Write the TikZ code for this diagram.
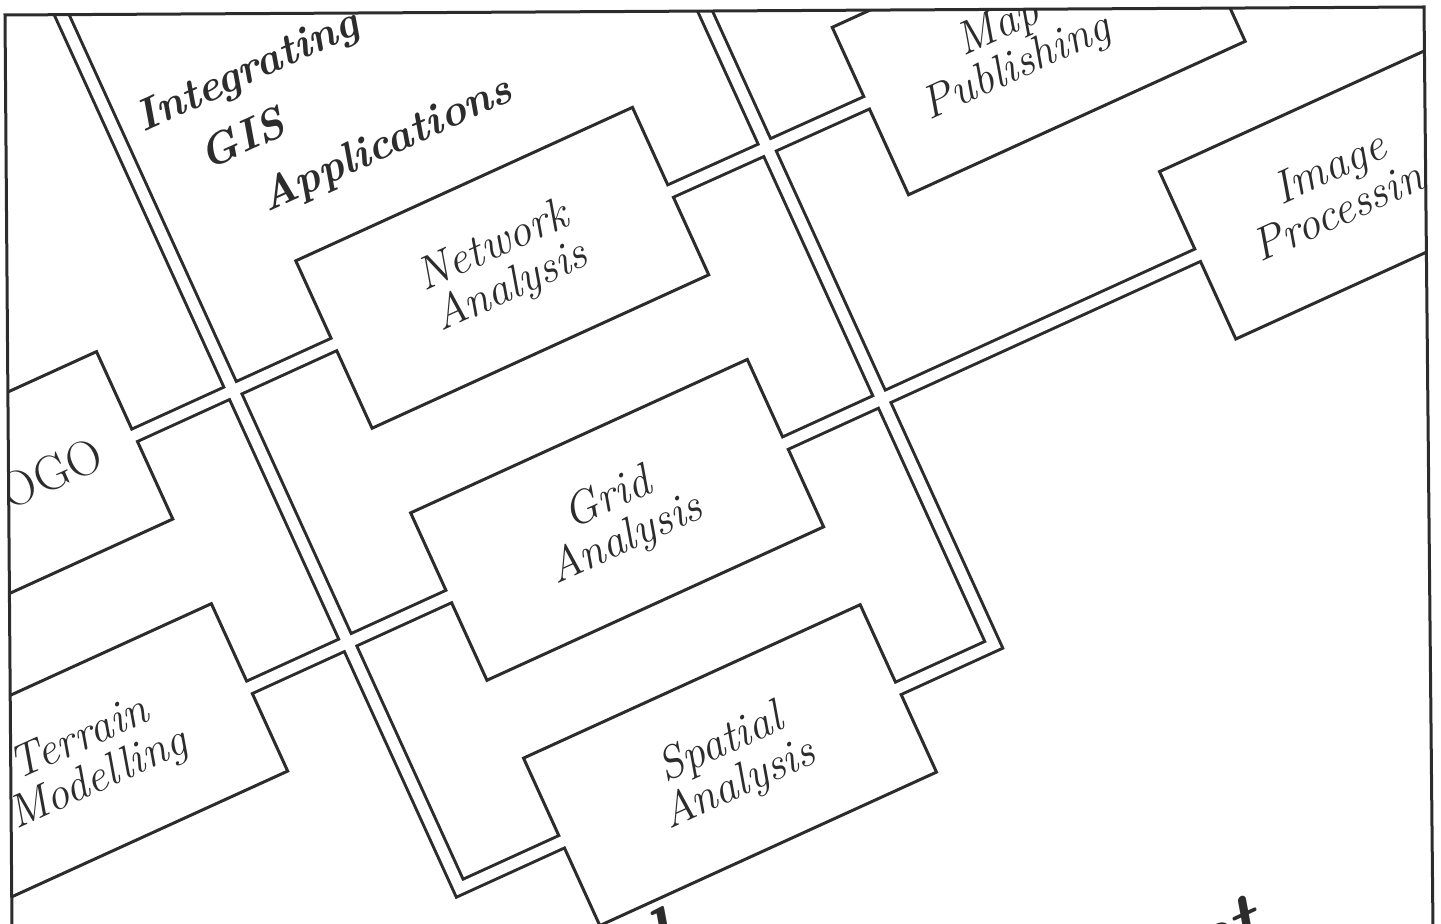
\documentclass[tikz,border=0pt]{standalone}
\usetikzlibrary{backgrounds}
\definecolor{ink}{RGB}{44,44,44}

\tikzset{
  module/.style={draw=ink, line width=1.5pt, fill=white, text=ink,
    inner sep=0pt, outer sep=0pt, minimum height=92pt, align=center,
    transform shape, font=\itshape\fontsize{23}{22}\selectfont},
  heading/.style={text=ink, inner sep=0pt, transform shape,
    font=\bfseries\itshape\fontsize{22}{24}\selectfont},
  banner/.style={text=ink, inner sep=0pt, transform shape,
    font=\bfseries\itshape\fontsize{40}{40}\selectfont},
  duct/.style={draw=ink, line width=8.25pt, line join=miter},
  ductgap/.style={draw=white, line width=5.25pt, line join=miter,
    shorten <=-1.5pt, shorten >=-1.5pt},
}

\begin{document}
\begin{tikzpicture}[x=0.5pt,y=-0.5pt]
  \useasboundingbox (0,0) rectangle (1441,924);
  \begin{scope}
    \clip (5,15) -- (1424,7) -- (1433,930) -- (12,930) -- cycle;
    \begin{scope}[rotate=24.5]
      % modules sit on the ducts
      \node[module, minimum width=108pt, font=\upshape\fontsize{24.5}{24.5}\selectfont] (cogo) at (-166,452) {COGO};
      \node[module, minimum width=185pt] (network) at (346,452) {Network\\Analysis};
      \node[module, minimum width=185pt] (mappub) at (931,462) {Map\hspace*{34pt}\\Publishing\hspace*{34pt}};
      \node[module, minimum width=176pt] (terrain) at (-234,729) {Terrain\\Modelling};
      \node[module, minimum width=185pt] (grid) at (346,729) {Grid\\Analysis};
      \node[module, minimum width=156pt] (image) at (1140,729) {Image\\Processing};
      \node[module, minimum width=185pt] (spatial) at (347,999) {Spatial\\Analysis};
      \coordinate (mapport) at (746,453);
      \coordinate (atop) at (50,-150);
      \coordinate (abot) at (50,999);
      \coordinate (btop) at (637,-150);
      \coordinate (bbot) at (637,999);
      % outer strokes of the ducts, behind the modules
      \begin{scope}[on background layer]
        \clip[rotate=-24.5] (5,15) -- (1424,7) -- (1433,930) -- (12,930) -- cycle;
        \draw[duct] (cogo.east) -- (network.west);
        \draw[duct] (network.east) -- (mapport);
        \draw[duct] (terrain.east) -- (grid.west);
        \draw[duct] (grid.east) -- (image.west);
        \draw[duct] (atop) -- (abot) -- (spatial.west);
        \draw[duct] (btop) -- (bbot) -- (spatial.east);
      \end{scope}
      % hollow out the ducts
      \draw[ductgap] (cogo.east) -- (network.west);
      \draw[ductgap] (network.east) -- (mapport);
      \draw[ductgap] (terrain.east) -- (grid.west);
      \draw[ductgap] (grid.east) -- (image.west);
      \draw[ductgap] (atop) -- (abot) -- (spatial.west);
      \draw[ductgap] (btop) -- (bbot) -- (spatial.east);
      \node[heading, anchor=base west] (hd1) at (75,180) {Integrating};
      \node[heading, anchor=base west] (hd2) at (118,241) {GIS};
      \node[heading, anchor=base west] (hd3) at (155,304) {Applications};
      % slogan, mostly below the frame
      \node[banner, anchor=base east] (slogan1) at (225,1155) {Integrated};
      \node[banner, anchor=base east] (slogan2) at (765,1382) {GIS Toolset};
    \end{scope}
  \end{scope}
  \draw[ink, line width=1.5pt] (12,930) -- (5,15) -- (1424,7) -- (1433,930);
\end{tikzpicture}
\end{document}
